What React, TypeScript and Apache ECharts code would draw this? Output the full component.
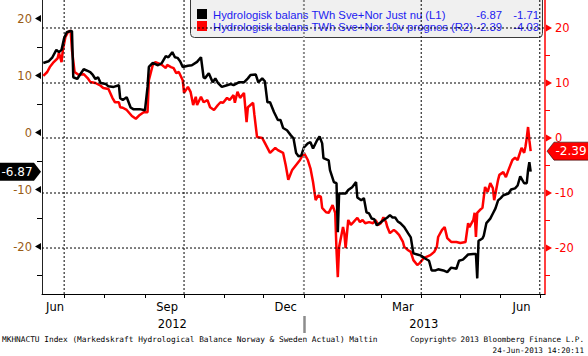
import React, { useEffect, useRef } from "react";
import * as echarts from "echarts";

// x values are days since 2012-07-01
const blackDays = [-16,-12,-9,-6,-4,-2,0,2,5,6,7,10,12,15,18,20,22,24,26,28,32,34,38,42,43,45,48,51,53,58,62,64,65,68,70,72,75,78,80,83,85,87,89,91,95,98,102,105,107,108,111,114,116,118,121,125,128,130,134,138,141,143,147,149,152,154,156,158,161,164,166,168,171,174,176,178,180,182,184,187,189,191,194,196,198,199,203,204,207,209,210,211,214,216,218,221,224,225,228,230,232,234,236,238,240,242,245,248,250,252,254,256,258,261,264,266,268,271,274,277,280,282,285,287,291,294,297,301,303,306,310,314,316,317,318,321,322,324,327,329,331,333,335,337,341,343,346,348,350,353,355,356,357,358];
const blackValues = [12.2,12.5,13.2,14.5,14.1,14.5,16.6,17.6,17.8,17.8,9.7,9.4,10.1,11.1,10.8,10.6,10.1,9.4,9.7,8.7,8.5,8.1,8.0,8.3,6.0,5.7,6.2,4.4,4.1,4.1,3.9,8.0,11.5,12.2,12.0,11.8,12.2,13.4,13.2,14.1,13.2,13.1,12.5,11.5,11.7,11.8,12.4,13.2,9.7,9.5,10.4,8.8,9.5,8.7,8.0,8.3,8.5,8.3,8.8,8.8,9.5,10.1,10.2,8.8,9.5,9.0,5.3,5.3,3.6,2.2,2.2,0.8,0.4,-0.5,-1.0,-3.6,-4.2,-4.0,-2.6,-1.9,-1.7,-2.8,-1.4,-0.7,-1.9,-4.5,-4.9,-6.6,-8.7,-8.9,-17.5,-10.7,-10.7,-10.7,-10.1,-9.6,-8.7,-11.4,-11.9,-11.5,-14.0,-14.2,-15.1,-15.2,-16.3,-15.9,-15.4,-14.9,-14.5,-14.9,-14.9,-15.6,-15.9,-16.6,-17.7,-18.4,-21.2,-21.4,-21.6,-22.1,-22.5,-24.2,-24.2,-24.0,-24.2,-24.5,-23.7,-23.9,-22.5,-22.3,-21.4,-21.3,-21.3,-25.6,-19.0,-18.6,-18.1,-15.9,-15.1,-14.2,-13.3,-11.9,-11.5,-11.0,-10.7,-10.0,-9.8,-9.3,-7.7,-8.9,-8.9,-6.6,-5.2,-6.87];

const redDays = [-16,-13,-11,-8,-5,-4,-2,-1,1,3,5,6,8,11,15,18,20,24,28,30,34,37,39,42,43,45,48,52,55,58,61,64,65,68,70,72,75,78,79,82,84,86,88,91,92,95,97,99,101,102,105,107,110,112,115,118,120,122,125,127,130,131,133,135,138,140,141,143,145,146,148,152,154,158,162,164,168,170,172,175,178,181,184,187,189,191,193,195,197,198,201,203,206,208,209,210,211,214,215,216,218,220,222,225,227,229,231,234,237,239,241,243,245,247,248,250,253,255,257,260,261,264,266,268,271,273,276,278,281,284,286,287,290,292,294,297,301,304,308,310,311,314,315,316,317,319,321,323,325,327,329,330,333,334,337,339,341,344,346,348,351,353,354,355,356,357,358];
const redValues = [11.3,12.0,12.9,13.8,14.5,15.5,13.8,16.0,18.4,19.3,19.5,16.0,12.0,11.5,11.6,10.9,10.2,10.0,9.5,9.1,8.9,7.3,6.5,6.5,5.6,5.5,5.1,4.0,3.5,4.2,4.7,4.7,10.5,13.3,13.8,13.6,13.3,12.7,13.3,12.9,12.7,11.8,12.0,10.5,8.2,9.3,8.4,6.0,7.5,6.0,7.5,6.5,6.9,5.6,5.1,6.0,6.5,6.4,7.3,6.9,7.8,6.4,8.4,7.3,8.2,2.9,5.6,6.0,6.4,4.2,0.2,0.0,-0.9,-2.7,-1.8,-2.2,-2.7,-4.9,-7.6,-5.8,-4.9,-4.0,-2.7,-4.0,-5.5,-8.0,-11.3,-10.4,-10.7,-12.7,-13.5,-13.6,-12.2,-13.6,-20.4,-25.3,-19.8,-16.2,-17.3,-20.0,-14.9,-15.8,-15.3,-14.5,-15.3,-14.9,-15.5,-15.3,-15.5,-14.9,-15.8,-15.5,-14.4,-15.3,-16.2,-17.3,-16.7,-17.1,-17.6,-18.9,-19.8,-20.4,-20.7,-22.2,-23.1,-22.7,-21.8,-21.6,-21.3,-20.7,-19.8,-18.0,-16.7,-16.2,-18.2,-18.9,-18.9,-19.1,-18.9,-15.5,-16.2,-14.9,-13.6,-18.0,-13.6,-13.1,-12.7,-8.9,-9.8,-8.2,-9.1,-11.3,-7.6,-6.7,-6.2,-7.1,-5.8,-4.0,-3.6,-4.0,-1.8,-2.7,-1.6,0.0,2.0,-0.4,-2.39];

const blackName = "Hydrologisk balans TWh Sve+Nor Just nu (L1)";
const redName = "Hydrologisk balans TWh Sve+Nor 10v prognos (R2)";
const blackLegendValues = ["-6.87", "-1.71"];
const redLegendValues = ["-2.39", "-4.03"];

const xMin = -17;
const xMax = 369;
const monthTickDays = [0, 31, 62, 92, 123, 153, 184, 215, 243, 274, 304, 335, 365];
const monthLabelDays = [-7, 79, 170, 260, 351];
const monthLabelNames = ["Jun", "Sep", "Dec", "Mar", "Jun"];
const quarterDays = [0, 92, 274, 365];
const yearBreakDay = 184;
const yearLabelDays = [83, 276];
const yearLabelNames = ["2012", "2013"];

const leftMin = -28.33;
const leftMax = 23.25;
const rightMin = -28.36;
const rightMax = 25.09;
const leftMajorTicks = [-20, -10, 0, 10, 20];
const leftMinorTicks = [-25, -15, -5, 5, 15];
const rightMajorTicks = [-20, -10, 0, 10, 20];
const rightMinorTicks = [-25, -15, -5, 5, 15];

const footerLeft = "MKHNACTU Index (Markedskraft Hydrological Balance Norway & Sweden Actual) Maltin";
const footerRight1 = "Copyright\u00a9 2013 Bloomberg Finance L.P.";
const footerRight2 = "24-Jun-2013 14:20:11";

const AX_FONT = "DejaVu Sans";

export default function App() {
  const ref = useRef<HTMLDivElement>(null);
  useEffect(() => {
    document.body.style.margin = "0";
    const chart = echarts.init(ref.current!, null, { renderer: "svg" });
    const blackData = blackDays.map((d, i) => [d, blackValues[i]]);
    const redData = redDays.map((d, i) => [d, redValues[i]]);
    const lastBlack = blackValues[blackValues.length - 1];
    const lastRed = redValues[redValues.length - 1];
    const legendFont = { fontFamily: "Liberation Sans", fontSize: 11.3 };
    const blue = "#1c1cf0";

    const hGrid = {
      type: "custom",
      xAxisIndex: 0,
      yAxisIndex: 1,
      z: 10,
      data: rightMajorTicks.map((v) => [v]),
      renderItem: (_p: any, api: any) => {
        const a = api.coord([xMin, api.value(0)]);
        const b = api.coord([xMax, api.value(0)]);
        return { type: "line", shape: { x1: a[0], y1: a[1], x2: b[0], y2: b[1] }, style: { stroke: "#000", lineWidth: 1, lineDash: [2, 2] } };
      },
    };
    const vGrid = {
      type: "custom",
      xAxisIndex: 0,
      yAxisIndex: 1,
      z: 10,
      data: quarterDays.map((d) => [d]),
      renderItem: (_p: any, api: any) => {
        const a = api.coord([api.value(0), rightMax]);
        const b = api.coord([api.value(0), rightMin]);
        return { type: "line", shape: { x1: a[0], y1: a[1], x2: b[0], y2: b[1] }, style: { stroke: "#000", lineWidth: 1, lineDash: [2, 2] } };
      },
    };
    const yearGrid = {
      type: "custom",
      xAxisIndex: 0,
      yAxisIndex: 1,
      z: 10,
      data: [[yearBreakDay]],
      renderItem: (_p: any, api: any) => {
        const a = api.coord([api.value(0), rightMax]);
        const b = api.coord([api.value(0), rightMin]);
        return { type: "line", shape: { x1: a[0], y1: a[1], x2: b[0], y2: b[1] }, style: { stroke: "#8c8c8c", lineWidth: 2, lineDash: [2, 2] } };
      },
    };
    const leftArrows = {
      type: "custom",
      xAxisIndex: 0,
      yAxisIndex: 0,
      z: 10,
      data: leftMajorTicks.map((v) => [v]),
      renderItem: (_p: any, api: any) => {
        const p = api.coord([xMin, api.value(0)]);
        return { type: "polygon", shape: { points: [[p[0] - 1, p[1] - 3.5], [p[0] - 1, p[1] + 3.5], [p[0] - 7, p[1]]] }, style: { fill: "#000" } };
      },
    };
    const rightArrows = {
      type: "custom",
      xAxisIndex: 0,
      yAxisIndex: 1,
      z: 10,
      data: rightMajorTicks.map((v) => [v]),
      renderItem: (_p: any, api: any) => {
        const p = api.coord([xMax, api.value(0)]);
        return { type: "polygon", shape: { points: [[p[0] + 1, p[1] - 3.5], [p[0] + 1, p[1] + 3.5], [p[0] + 7, p[1]]] }, style: { fill: "#ff0000" } };
      },
    };

    chart.setOption({
      animation: false,
      grid: { left: 42, right: 43, top: 0, bottom: 62, containLabel: false },
      xAxis: [
        {
          type: "value",
          min: xMin,
          max: xMax,
          position: "bottom",
          axisLine: { show: true, onZero: false, lineStyle: { color: "#000", width: 1 } },
          axisTick: { show: true, customValues: monthTickDays, length: 4, lineStyle: { color: "#000" } },
          axisLabel: {
            customValues: monthLabelDays,
            formatter: (v: number) => monthLabelNames[monthLabelDays.indexOf(v)] ?? "",
            color: "#000",
            fontFamily: AX_FONT,
            fontSize: 11.5,
            margin: 7,
          },
          splitLine: { show: false },
        },
        {
          type: "value",
          min: xMin,
          max: xMax,
          position: "bottom",
          offset: 22,
          axisLine: { show: false, onZero: false },
          axisTick: { show: true, customValues: [yearBreakDay], length: 17, lineStyle: { color: "#8c8c8c", width: 2.5 } },
          axisLabel: {
            customValues: yearLabelDays,
            formatter: (v: number) => yearLabelNames[yearLabelDays.indexOf(v)] ?? "",
            color: "#000",
            fontFamily: AX_FONT,
            fontSize: 11.5,
            margin: 2,
          },
          splitLine: { show: false },
        },
      ],
      yAxis: [
        {
          type: "value",
          position: "left",
          min: leftMin,
          max: leftMax,
          axisLine: { show: true, onZero: false, lineStyle: { color: "#222", width: 1 } },
          axisTick: { show: true, customValues: leftMinorTicks, length: 5, lineStyle: { color: "#000" } },
          axisLabel: {
            customValues: leftMajorTicks,
            color: "#9a5c14",
            fontFamily: AX_FONT,
            fontSize: 11.5,
            margin: 10,
          },
          splitLine: { show: false },
        },
        {
          type: "value",
          position: "right",
          min: rightMin,
          max: rightMax,
          axisLine: { show: true, onZero: false, lineStyle: { color: "#ff0000", width: 1.5 } },
          axisTick: { show: true, customValues: rightMinorTicks, length: 5, lineStyle: { color: "#ff0000" } },
          axisLabel: {
            customValues: rightMajorTicks,
            color: "#ff0000",
            fontFamily: AX_FONT,
            fontSize: 11.5,
            margin: 10,
          },
          splitLine: { show: false },
        },
      ],
      series: [
        {
          name: redName,
          type: "line",
          xAxisIndex: 0,
          yAxisIndex: 1,
          data: redData,
          showSymbol: false,
          symbol: "none",
          lineStyle: { color: "#ff0000", width: 2.5 },
          z: 3,
          markPoint: {
            data: [
              {
                coord: [xMax, lastRed],
                symbol: "path://M0,9 L7,0 L42,0 L42,18 L7,18 Z",
                symbolSize: [42, 18],
                symbolOffset: [23, 0],
                itemStyle: { color: "#ff0000", borderColor: "#000", borderWidth: 0.5 },
                label: {
                  show: true,
                  formatter: lastRed.toFixed(2),
                  color: "#fff",
                  fontFamily: AX_FONT,
                  fontSize: 12,
                  offset: [3, 0],
                },
              },
            ],
          },
        },
        {
          name: blackName,
          type: "line",
          xAxisIndex: 0,
          yAxisIndex: 0,
          data: blackData,
          showSymbol: false,
          symbol: "none",
          lineStyle: { color: "#000", width: 2.5 },
          z: 4,
          markPoint: {
            data: [
              {
                coord: [xMin, lastBlack],
                symbol: "path://M0,0 L35,0 L42,9 L35,18 L0,18 Z",
                symbolSize: [42, 18],
                symbolOffset: [-22, 0],
                itemStyle: { color: "#000" },
                label: {
                  show: true,
                  formatter: lastBlack.toFixed(2),
                  color: "#fff",
                  fontFamily: AX_FONT,
                  fontSize: 12,
                  offset: [-3, 0],
                },
              },
            ],
          },
        },
        hGrid,
        vGrid,
        yearGrid,
        leftArrows,
        rightArrows,
      ],
      graphic: [
        {
          type: "rect",
          z: -1,
          silent: true,
          shape: { x: 190.5, y: -5, width: 352, height: 42.5, r: 4 },
          style: { fill: "#f0f0f0", stroke: "#3a3a3a", lineWidth: 1 },
        },
        { type: "rect", silent: true, shape: { x: 197, y: 9, width: 10, height: 10 }, style: { fill: "#000" } },
        { type: "rect", silent: true, shape: { x: 197, y: 21, width: 10, height: 10 }, style: { fill: "#ff0000" } },
        { type: "text", silent: true, x: 213, y: 14.5, style: { text: blackName, fill: blue, ...legendFont, verticalAlign: "middle" } },
        { type: "text", silent: true, x: 213, y: 26.5, style: { text: redName, fill: blue, ...legendFont, verticalAlign: "middle" } },
        { type: "text", silent: true, x: 502, y: 14.5, style: { text: blackLegendValues[0], fill: blue, ...legendFont, align: "right", verticalAlign: "middle" } },
        { type: "text", silent: true, x: 539, y: 14.5, style: { text: blackLegendValues[1], fill: blue, ...legendFont, align: "right", verticalAlign: "middle" } },
        { type: "text", silent: true, x: 502, y: 26.5, style: { text: redLegendValues[0], fill: blue, ...legendFont, align: "right", verticalAlign: "middle" } },
        { type: "text", silent: true, x: 539, y: 26.5, style: { text: redLegendValues[1], fill: blue, ...legendFont, align: "right", verticalAlign: "middle" } },
        { type: "text", silent: true, x: 2, y: 339, style: { text: footerLeft, fill: "#000", fontFamily: "DejaVu Sans Mono", fontSize: 7.8, verticalAlign: "middle" } },
        { type: "text", silent: true, x: 584, y: 339, style: { text: footerRight1, fill: "#000", fontFamily: "DejaVu Sans Mono", fontSize: 7.6, align: "right", verticalAlign: "middle" } },
        { type: "text", silent: true, x: 584, y: 350, style: { text: footerRight2, fill: "#000", fontFamily: "DejaVu Sans Mono", fontSize: 7.6, align: "right", verticalAlign: "middle" } },
      ],
    });
    return () => chart.dispose();
  }, []);
  return <div ref={ref} style={{ width: 588, height: 356 }} />;
}
